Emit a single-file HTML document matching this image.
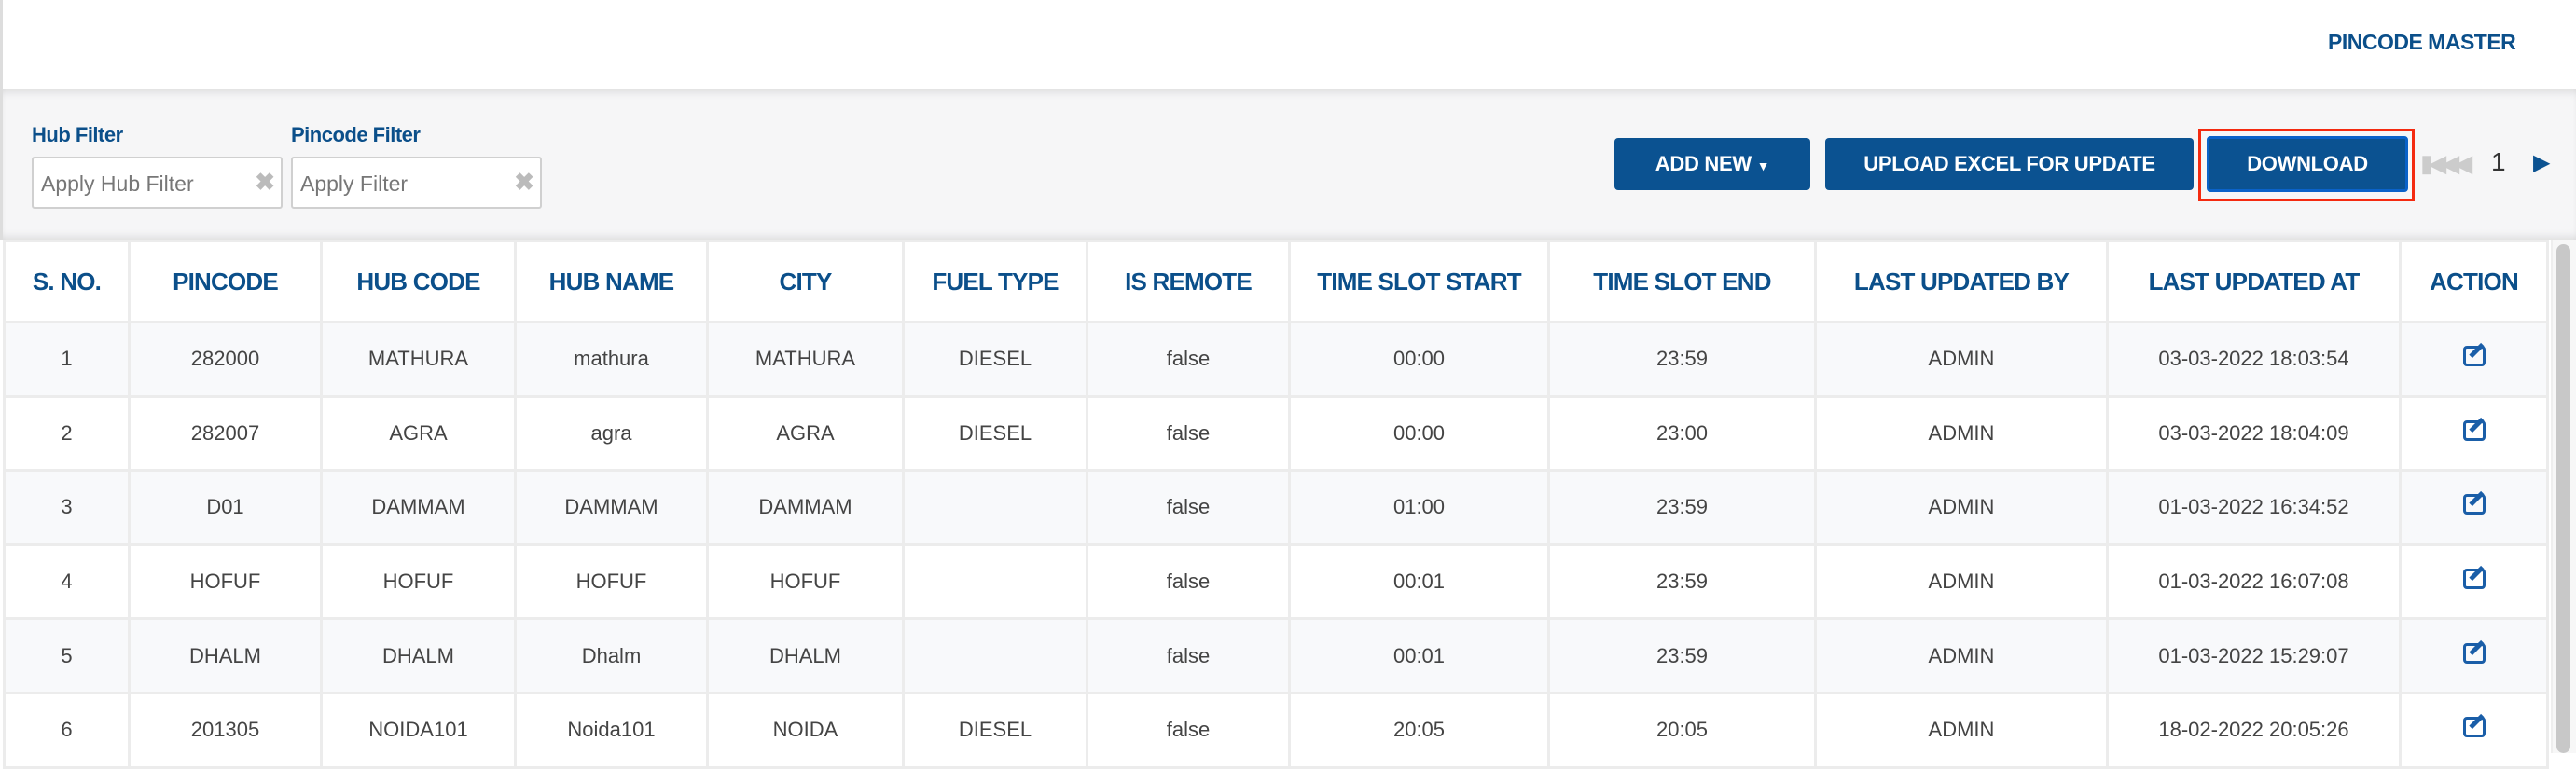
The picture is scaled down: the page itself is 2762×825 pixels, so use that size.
<!DOCTYPE html>
<html><head><meta charset="utf-8"><style>
*{box-sizing:border-box;margin:0;padding:0}
body{width:2762px;height:808px;overflow:hidden;background:#fff;font-family:"Liberation Sans",sans-serif;position:relative}
.a{position:absolute}
#hdr{left:0;top:0;width:2762px;height:96px;background:#fff;border-left:3px solid #ddd}
#title{left:2496px;top:32px;font-size:23px;font-weight:bold;color:#0b4f8a;letter-spacing:-0.5px}
#filt{left:0;top:96px;width:2762px;height:161px;background:#f6f6f7;box-shadow:inset 0 8px 10px -6px rgba(0,0,0,0.12),inset 0 -8px 10px -6px rgba(0,0,0,0.12);border-left:3px solid #ddd}
.lbl{font-size:22px;font-weight:bold;color:#0b4f8a;letter-spacing:-0.5px}
.inp{height:56px;background:#fff;border:2px solid #d0d0d0;border-radius:3px;font-size:23px;color:#777;padding:14px 0 0 8px}
.x{position:absolute;right:6px;top:10px;font-size:26px;color:#bbb;font-weight:bold}
.btn{height:56px;background:#0b5291;border-radius:4px;color:#fff;font-size:22px;font-weight:bold;text-align:center;line-height:56px;letter-spacing:-0.3px}
table{position:absolute;left:3px;top:257px;border-collapse:collapse;table-layout:fixed}
td,th{border:3px solid #ececec;text-align:center;font-size:22px;color:#444}
th{height:87px;font-size:26px;color:#0b4f8a;font-weight:bold;letter-spacing:-0.8px;background:#fff}
td{height:79.6px}
tr.o td{background:#f8f9fb}
tr.e td{background:#fff}
.ic{display:inline-block;width:24px;height:22px;border:3px solid #1a5ea8;border-radius:4px;position:relative;background:transparent}
.ic:after{content:"";position:absolute;left:9px;top:-7px;width:5px;height:18px;background:#1a5ea8;transform:rotate(45deg)}
</style></head><body>
<div id="hdr" class="a"></div>
<div id="title" class="a">PINCODE MASTER</div>
<div id="filt" class="a"></div>
<div class="a lbl" style="left:34px;top:132px">Hub Filter</div>
<div class="a lbl" style="left:312px;top:132px">Pincode Filter</div>
<div class="a inp" style="left:34px;top:168px;width:269px">Apply Hub Filter<span class="x">✖</span></div>
<div class="a inp" style="left:312px;top:168px;width:269px">Apply Filter<span class="x">✖</span></div>
<div class="a btn" style="left:1731px;top:148px;width:210px">ADD NEW <span style="font-size:14px">▼</span></div>
<div class="a btn" style="left:1957px;top:148px;width:395px">UPLOAD EXCEL FOR UPDATE</div>
<div class="a" style="left:2357px;top:138px;width:232px;height:78px;border:3px solid #f42a10"></div>
<div class="a btn" style="left:2366px;top:146px;width:216px;height:60px;line-height:54px;background:#0b5291;border:3px solid #0a62c9">DOWNLOAD</div>
<div class="a" style="left:2595px;top:160px;font-size:26px;color:#ccc;letter-spacing:-6px">▮◀◀◀</div>
<div class="a" style="left:2671px;top:158px;font-size:28px;color:#333">1</div>
<div class="a" style="left:2716px;top:160px;font-size:24px;color:#0b5291">▶</div>
<div class="a" style="left:2735px;top:258px;width:27px;height:550px;background:#f7f7f7;border-left:2px solid #eee"></div>
<div class="a" style="left:2741px;top:262px;width:15px;height:546px;background:#c8c8c8;border-radius:8px"></div>
<table>
<colgroup><col style="width:134px"><col style="width:206px"><col style="width:208px"><col style="width:206px"><col style="width:210px"><col style="width:197px"><col style="width:217px"><col style="width:278px"><col style="width:286px"><col style="width:313px"><col style="width:314px"><col style="width:158px"></colgroup>
<tr><th>S. NO.</th><th>PINCODE</th><th>HUB CODE</th><th>HUB NAME</th><th>CITY</th><th>FUEL TYPE</th><th>IS REMOTE</th><th>TIME SLOT START</th><th>TIME SLOT END</th><th>LAST UPDATED BY</th><th>LAST UPDATED AT</th><th>ACTION</th></tr>
<tr class="o"><td>1</td><td>282000</td><td>MATHURA</td><td>mathura</td><td>MATHURA</td><td>DIESEL</td><td>false</td><td>00:00</td><td>23:59</td><td>ADMIN</td><td>03-03-2022 18:03:54</td><td><span class="ic"></span></td></tr>
<tr class="e"><td>2</td><td>282007</td><td>AGRA</td><td>agra</td><td>AGRA</td><td>DIESEL</td><td>false</td><td>00:00</td><td>23:00</td><td>ADMIN</td><td>03-03-2022 18:04:09</td><td><span class="ic"></span></td></tr>
<tr class="o"><td>3</td><td>D01</td><td>DAMMAM</td><td>DAMMAM</td><td>DAMMAM</td><td></td><td>false</td><td>01:00</td><td>23:59</td><td>ADMIN</td><td>01-03-2022 16:34:52</td><td><span class="ic"></span></td></tr>
<tr class="e"><td>4</td><td>HOFUF</td><td>HOFUF</td><td>HOFUF</td><td>HOFUF</td><td></td><td>false</td><td>00:01</td><td>23:59</td><td>ADMIN</td><td>01-03-2022 16:07:08</td><td><span class="ic"></span></td></tr>
<tr class="o"><td>5</td><td>DHALM</td><td>DHALM</td><td>Dhalm</td><td>DHALM</td><td></td><td>false</td><td>00:01</td><td>23:59</td><td>ADMIN</td><td>01-03-2022 15:29:07</td><td><span class="ic"></span></td></tr>
<tr class="e"><td>6</td><td>201305</td><td>NOIDA101</td><td>Noida101</td><td>NOIDA</td><td>DIESEL</td><td>false</td><td>20:05</td><td>20:05</td><td>ADMIN</td><td>18-02-2022 20:05:26</td><td><span class="ic"></span></td></tr>
</table>
</body></html>
